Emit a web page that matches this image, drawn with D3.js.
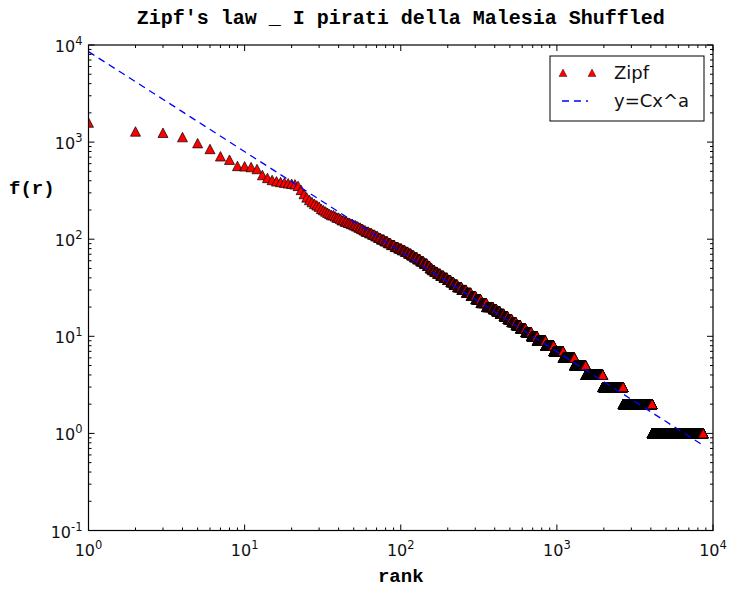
<!DOCTYPE html>
<html>
<head>
<meta charset="utf-8">
<script src="https://cdn.jsdelivr.net/npm/d3@7"></script>
<style>
  body { margin: 0; background: #fff; }
  svg { display: block; }
</style>
</head>
<body>
<div id="chart"></div>
<script>
// frequencies of the first ranks, one per rank (rank 1..30)
const topFreqs = [1580, 1280, 1240, 1120, 970, 845, 710, 655, 565, 560,
                  550, 525, 455, 425, 405, 392, 386, 380, 374, 370,
                  365, 352, 320, 290, 268, 252, 240, 230, 222, 215];

// after that: frequency level and the last rank holding that frequency
const levelFreq = [204, 198, 192, 186, 181, 176, 171, 166, 161, 156, 151, 147, 143, 139, 135, 131,
                   127, 123, 119, 115, 111, 107, 103, 99, 95, 91, 87, 83, 80, 77, 74, 71, 68, 65,
                   62, 59, 56, 53, 50, 48, 46, 44, 42, 40, 38, 36, 34, 32, 30, 28, 26, 24, 22,
                   20, 19, 18, 17, 16, 15, 14, 13, 12, 11, 10, 9, 8, 7, 6, 5, 4, 3, 2, 1];
const levelLastRank = [31, 32, 33, 34, 35, 37, 38, 40, 41, 43, 45, 47, 49, 51, 53, 55,
                       57, 59, 62, 65, 68, 71, 74, 78, 82, 86, 91, 96, 101, 106, 111, 116, 121, 127,
                       133, 140, 147, 153, 158, 164, 171, 179, 188, 198, 208, 218, 230, 245, 262, 281, 301, 325, 353,
                       390, 410, 432, 457, 484, 513, 546, 583, 630, 685, 747, 845, 953, 1096, 1295, 1530, 1967, 2656, 4075, 8650];

// fitted power law y = C * x^a
const fitC = 8550;
const fitA = -1.03;

const xTickExp = [0, 1, 2, 3, 4];
const yTickExp = [-1, 0, 1, 2, 3, 4];

const W = 730, H = 589;
const margin = {top: 45, right: 17, bottom: 58.5, left: 88.5};
const iw = W - margin.left - margin.right;
const ih = H - margin.top - margin.bottom;

// build rank/frequency pairs
const points = topFreqs.map((f, i) => ({r: i + 1, f: f}));
let prev = topFreqs.length;
levelFreq.forEach((f, i) => {
    for (let r = prev + 1; r <= levelLastRank[i]; r++) points.push({r: r, f: f});
    prev = levelLastRank[i];
});
const maxRank = prev;

const svg = d3.select("#chart").append("svg")
    .attr("width", W).attr("height", H)
    .attr("viewBox", `0 0 ${W} ${H}`);
svg.append("rect").attr("width", W).attr("height", H).attr("fill", "#fff");

const g = svg.append("g").attr("transform", `translate(${margin.left},${margin.top})`);

const x = d3.scaleLog().domain([1, 1e4]).range([0, iw]);
const y = d3.scaleLog().domain([0.1, 1e4]).range([ih, 0]);

const clipId = "plotclip";
g.append("clipPath").attr("id", clipId).append("rect").attr("width", iw).attr("height", ih);

const tri = "M0,-5L5,4.5L-5,4.5Z";

const plot = g.append("g").attr("clip-path", `url(#${clipId})`);
plot.append("g").selectAll("path").data(points).join("path")
    .attr("d", tri)
    .attr("transform", d => `translate(${x(d.r)},${y(d.f)})`)
    .attr("fill", "#f00")
    .attr("stroke", "#000")
    .attr("stroke-width", 0.7);

const fitLine = [1, maxRank].map(v => ({r: v, f: fitC * Math.pow(v, fitA)}));
plot.append("path")
    .datum(fitLine)
    .attr("d", d3.line().x(d => x(d.r)).y(d => y(d.f)))
    .attr("fill", "none")
    .attr("stroke", "#0000ff")
    .attr("stroke-width", 1.3)
    .attr("stroke-dasharray", "7 5");

// ticks (inside, on all four sides)
const majLen = 6, minLen = 3;
const xMinor = [], yMinor = [];
for (let e = 0; e < 4; e++) for (let k = 2; k <= 9; k++) xMinor.push(k * Math.pow(10, e));
for (let e = -1; e < 4; e++) for (let k = 2; k <= 9; k++) yMinor.push(k * Math.pow(10, e));

const ticks = g.append("g").attr("stroke", "#000").attr("stroke-width", 1);
xTickExp.forEach(e => {
    const px = x(Math.pow(10, e));
    ticks.append("line").attr("x1", px).attr("x2", px).attr("y1", ih).attr("y2", ih - majLen);
    ticks.append("line").attr("x1", px).attr("x2", px).attr("y1", 0).attr("y2", majLen);
});
xMinor.forEach(v => {
    const px = x(v);
    ticks.append("line").attr("x1", px).attr("x2", px).attr("y1", ih).attr("y2", ih - minLen);
    ticks.append("line").attr("x1", px).attr("x2", px).attr("y1", 0).attr("y2", minLen);
});
yTickExp.forEach(e => {
    const py = y(Math.pow(10, e));
    ticks.append("line").attr("x1", 0).attr("x2", majLen).attr("y1", py).attr("y2", py);
    ticks.append("line").attr("x1", iw).attr("x2", iw - majLen).attr("y1", py).attr("y2", py);
});
yMinor.forEach(v => {
    const py = y(v);
    ticks.append("line").attr("x1", 0).attr("x2", minLen).attr("y1", py).attr("y2", py);
    ticks.append("line").attr("x1", iw).attr("x2", iw - minLen).attr("y1", py).attr("y2", py);
});

// frame
g.append("rect").attr("width", iw).attr("height", ih)
    .attr("fill", "none").attr("stroke", "#000").attr("stroke-width", 1.2);

// tick labels
const tickFont = "'DejaVu Sans', sans-serif";
xTickExp.forEach(e => {
    const t = g.append("text")
        .attr("x", x(Math.pow(10, e))).attr("y", ih + 25)
        .attr("text-anchor", "middle")
        .attr("font-family", tickFont).attr("font-size", 16).attr("fill", "#111");
    t.append("tspan").text("10");
    t.append("tspan").attr("dy", -7).attr("font-size", 11.5).text(String(e));
});
yTickExp.forEach(e => {
    const t = g.append("text")
        .attr("x", -6).attr("y", y(Math.pow(10, e)) + 7)
        .attr("text-anchor", "end")
        .attr("font-family", tickFont).attr("font-size", 16).attr("fill", "#111");
    t.append("tspan").text("10");
    t.append("tspan").attr("dy", -7).attr("font-size", 11.5).text(String(e));
});

// titles
const monoFont = "'Liberation Mono', 'DejaVu Sans Mono', monospace";
svg.append("text")
    .attr("x", margin.left + iw / 2).attr("y", 24)
    .attr("text-anchor", "middle")
    .attr("font-family", monoFont).attr("font-weight", "bold").attr("font-size", 20)
    .text("Zipf's law _ I pirati della Malesia Shuffled");
svg.append("text")
    .attr("x", margin.left + iw / 2).attr("y", 582)
    .attr("text-anchor", "middle")
    .attr("font-family", monoFont).attr("font-weight", "bold").attr("font-size", 19)
    .text("rank");
svg.append("text")
    .attr("x", 9).attr("y", 194)
    .attr("font-family", monoFont).attr("font-weight", "bold").attr("font-size", 19)
    .text("f(r)");

// legend
const lg = g.append("g").attr("transform", `translate(${550 - margin.left},${56 - margin.top})`);
lg.append("rect").attr("width", 154).attr("height", 65)
    .attr("fill", "#fff").attr("stroke", "#000").attr("stroke-width", 1);
[13, 42].forEach(dx => {
    lg.append("path").attr("d", "M0,-4L4,3.5L-4,3.5Z")
        .attr("transform", `translate(${dx},17)`)
        .attr("fill", "#f00").attr("stroke", "#000").attr("stroke-width", 0.4);
});
lg.append("line").attr("x1", 12).attr("x2", 38).attr("y1", 45).attr("y2", 45)
    .attr("stroke", "#0000ff").attr("stroke-width", 1.3).attr("stroke-dasharray", "7 5");
lg.append("text").attr("x", 64).attr("y", 23)
    .attr("font-family", tickFont).attr("font-size", 18).attr("fill", "#111").text("Zipf");
lg.append("text").attr("x", 64).attr("y", 51)
    .attr("font-family", tickFont).attr("font-size", 18).attr("fill", "#111").text("y=Cx^a");
</script>
</body>
</html>
